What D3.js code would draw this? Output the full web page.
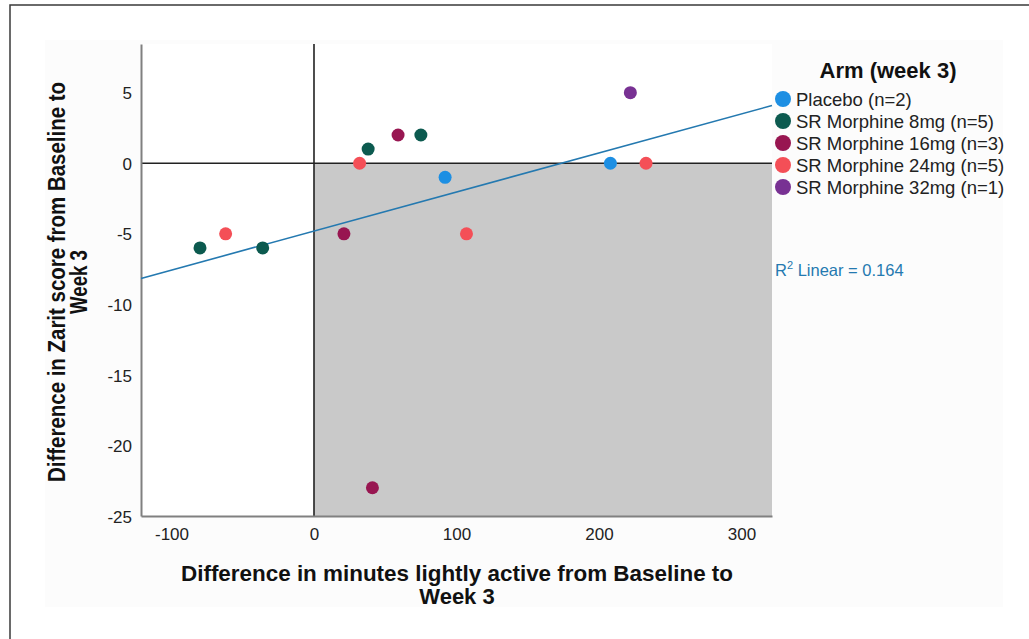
<!DOCTYPE html>
<html>
<head>
<meta charset="utf-8">
<script src="https://cdn.jsdelivr.net/npm/d3@7"></script>
<style>
  html, body { margin: 0; padding: 0; background: #fff; }
  svg { display: block; font-family: "Liberation Sans", Arial, sans-serif; }
</style>
</head>
<body>
<div id="chart"></div>
<script>
var
  armNames = ["Placebo (n=2)", "SR Morphine 8mg (n=5)", "SR Morphine 16mg (n=3)",
              "SR Morphine 24mg (n=5)", "SR Morphine 32mg (n=1)"],
  armColors = ["#1d8fe3", "#0c5a4f", "#981651", "#f44f57", "#783193"],

  // one entry per participant: arm index, x change, y change
  pointArm = [0, 0, 1, 1, 1, 1, 2, 2, 2, 3, 3, 3, 3, 4],
  pointX = [92, 208, -80, -36, 38, 75, 21, 59, 41, -62, 32, 107, 233, 222],
  pointY = [-1, 0, -6, -6, 1, 2, -5, 2, -23, -5, 0, -5, 0, 5],

  xTicks = [-100, 0, 100, 200, 300],
  yTicks = [-25, -20, -15, -10, -5, 0, 5],

  FIT_R2 = 0.164,

  WIDTH = 1029,
  HEIGHT = 639,
  PLOT_LEFT = 141,
  PLOT_RIGHT = 772,
  PLOT_TOP = 44,
  PLOT_BOTTOM = 516,
  FIT_COLOR = "#2479b0",
  SHADE_COLOR = "#c9c9c9";

var svg = d3.select("#chart").append("svg")
  .attr("width", WIDTH)
  .attr("height", HEIGHT);

var x = d3.scaleLinear().domain([-121.4, 321.4]).range([PLOT_LEFT, PLOT_RIGHT]);
var y = d3.scaleLinear().domain([-25, 8.45]).range([PLOT_BOTTOM, PLOT_TOP]);

// outer frame and faint chart panel
svg.append("rect")
  .attr("x", 10).attr("y", 5)
  .attr("width", 1040).attr("height", 700)
  .attr("fill", "#fff")
  .attr("stroke", "#3a3a3a").attr("stroke-width", 1.5);

svg.append("rect")
  .attr("x", 45).attr("y", 40)
  .attr("width", 958).attr("height", 567)
  .attr("fill", "#fcfcfc");

svg.append("rect")
  .attr("x", PLOT_LEFT).attr("y", PLOT_TOP)
  .attr("width", PLOT_RIGHT - PLOT_LEFT).attr("height", PLOT_BOTTOM - PLOT_TOP)
  .attr("fill", "#fff");

// shaded quadrant: x > 0, y < 0
svg.append("rect")
  .attr("x", x(0)).attr("y", y(0))
  .attr("width", x.range()[1] - x(0))
  .attr("height", y(-25) - y(0))
  .attr("fill", SHADE_COLOR);

// reference lines at zero
svg.append("line")
  .attr("x1", x(0)).attr("x2", x(0))
  .attr("y1", PLOT_TOP).attr("y2", PLOT_BOTTOM)
  .attr("stroke", "#222").attr("stroke-width", 1.6);

svg.append("line")
  .attr("x1", PLOT_LEFT).attr("x2", PLOT_RIGHT)
  .attr("y1", y(0)).attr("y2", y(0))
  .attr("stroke", "#222").attr("stroke-width", 1.6);

// axes without tick marks, plain hyphen for negatives
function plain(d){ return String(d); }

var xAxis = svg.append("g")
  .attr("transform", "translate(0," + PLOT_BOTTOM + ")")
  .call(d3.axisBottom(x).tickValues(xTicks).tickFormat(plain).tickSize(0).tickPadding(12));

var yAxis = svg.append("g")
  .attr("transform", "translate(" + PLOT_LEFT + ",0)")
  .call(d3.axisLeft(y).tickValues(yTicks).tickFormat(plain).tickSize(0).tickPadding(9));

[xAxis, yAxis].forEach(function(axis){
  axis.select(".domain").attr("stroke", "#808080").attr("stroke-width", 2);
  axis.selectAll("text")
    .attr("font-family", "'Liberation Sans', Arial, sans-serif")
    .attr("font-size", 17)
    .attr("fill", "#222");
});
yAxis.selectAll("text").attr("dy", "0.36em");

// least squares fit drawn across the plot
var
  mx = d3.mean(pointX),
  my = d3.mean(pointY),
  sxy = d3.sum(pointX, function(v, i){ return (v - mx) * (pointY[i] - my); }),
  sxx = d3.sum(pointX, function(v){ return (v - mx) * (v - mx); }),
  slope = sxy / sxx,
  intercept = my - slope * mx,
  xs = x.domain();

svg.append("line")
  .attr("x1", x(xs[0])).attr("y1", y(intercept + slope * xs[0]))
  .attr("x2", x(xs[1])).attr("y2", y(intercept + slope * xs[1]))
  .attr("stroke", FIT_COLOR).attr("stroke-width", 1.6);

// points
svg.append("g").selectAll("circle")
  .data(pointX)
  .join("circle")
  .attr("cx", function(d){ return x(d); })
  .attr("cy", function(d, i){ return y(pointY[i]); })
  .attr("r", 6.5)
  .attr("fill", function(d, i){ return armColors[pointArm[i]]; });

// fit label
var r2 = svg.append("text")
  .attr("x", 775).attr("y", 276)
  .attr("font-size", 16.5)
  .attr("fill", FIT_COLOR);
r2.append("tspan").text("R");
r2.append("tspan").attr("font-size", 11).attr("dy", -7).text("2");
r2.append("tspan").attr("dy", 7).text(" Linear = " + FIT_R2.toFixed(3));

// legend
svg.append("text")
  .attr("x", 888).attr("y", 78)
  .attr("text-anchor", "middle")
  .attr("font-size", 22).attr("font-weight", "bold")
  .attr("fill", "#111")
  .text("Arm (week 3)");

var legend = svg.append("g").selectAll("g")
  .data(armNames)
  .join("g")
  .attr("transform", function(d, i){ return "translate(783," + (99 + i * 22) + ")"; });

legend.append("circle")
  .attr("r", 8)
  .attr("fill", function(d, i){ return armColors[i]; });

legend.append("text")
  .attr("x", 13).attr("dy", "0.36em")
  .attr("font-size", 18.5)
  .attr("fill", "#222")
  .text(function(d){ return d; });

// axis titles
var xTitle = svg.append("text")
  .attr("text-anchor", "middle")
  .attr("font-size", 22).attr("font-weight", "bold")
  .attr("fill", "#111");
xTitle.append("tspan").attr("x", 457).attr("y", 581)
  .attr("textLength", 552).attr("lengthAdjust", "spacingAndGlyphs")
  .text("Difference in minutes lightly active from Baseline to");
xTitle.append("tspan").attr("x", 457).attr("y", 604).text("Week 3");

var yTitle = svg.append("text")
  .attr("transform", "translate(0,282) rotate(-90)")
  .attr("text-anchor", "middle")
  .attr("font-size", 23).attr("font-weight", "bold")
  .attr("fill", "#111");
yTitle.append("tspan").attr("x", 0).attr("y", 65)
  .attr("textLength", 400).attr("lengthAdjust", "spacingAndGlyphs")
  .text("Difference in Zarit score from Baseline to");
yTitle.append("tspan").attr("x", 0).attr("y", 87)
  .attr("textLength", 64).attr("lengthAdjust", "spacingAndGlyphs")
  .text("Week 3");
</script>
</body>
</html>
